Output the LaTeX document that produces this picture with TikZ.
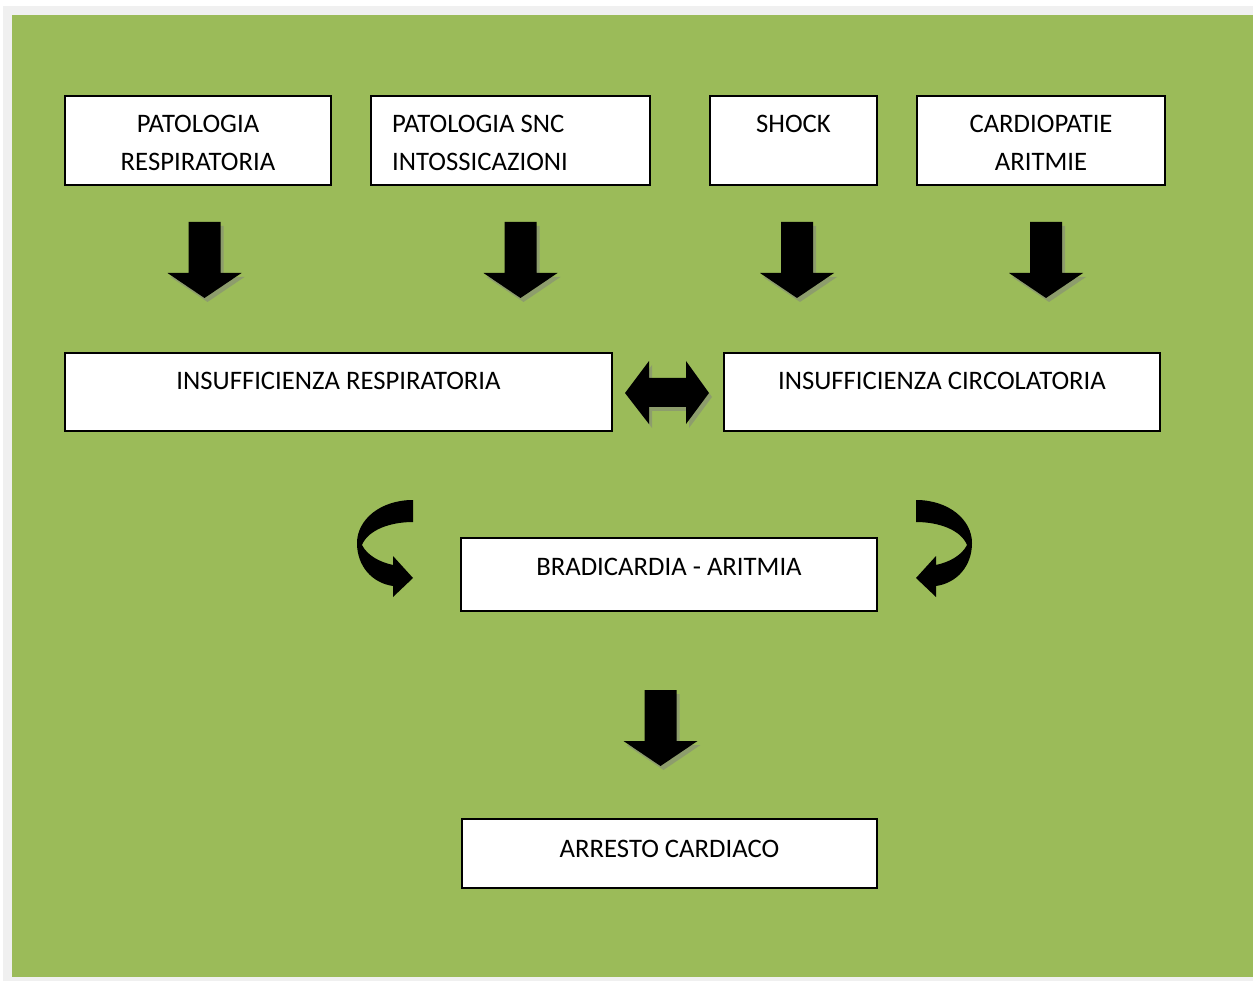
\documentclass[tikz,border=0pt]{standalone}
\usepackage{fontspec}
\setmainfont{Carlito}
\definecolor{bggreen}{HTML}{9BBB59}
\definecolor{bggray}{HTML}{F0F0F0}
\tikzset{
  box/.style={draw=black, line width=2pt, fill=white, anchor=north west, inner sep=0pt, outer sep=0pt},
  txt/.style={font=\fontsize{26.7}{38}\selectfont, inner sep=0pt, text=black},
  shadowfill/.style={fill=gray, opacity=0.5},
  downarrow/.pic={
    \fill[shadowfill, shift={(3,4)}] (-16,0) -- (16,0) -- (16,51) -- (37,51) -- (0,76) -- (-37,51) -- (-16,51) -- cycle;
    \fill[black] (-16,0) -- (16,0) -- (16,51) -- (37,51) -- (0,76) -- (-37,51) -- (-16,51) -- cycle;
  }
}
\begin{document}
\begin{tikzpicture}[x=1pt,y=-1pt]
\useasboundingbox (0,0) rectangle (1253,981);
\fill[white] (0,0) rectangle (1253,981);
\fill[bggray] (3,6) rectangle (1253,981);
\fill[bggreen] (12,15) rectangle (1253,977);

% top boxes
\node[box, minimum width=266pt, minimum height=89pt] (b1) at (65,96) {};
\node[box, minimum width=279pt, minimum height=89pt] (b2) at (371,96) {};
\node[box, minimum width=167pt, minimum height=89pt] (b3) at (710,96) {};
\node[box, minimum width=248pt, minimum height=89pt] (b4) at (917,96) {};
\node[txt, anchor=base] (t1a) at (198,133) {PATOLOGIA};
\node[txt, anchor=base] (t1b) at (198,171) {RESPIRATORIA};
\node[txt, anchor=base west] (t2a) at (392,133) {PATOLOGIA SNC};
\node[txt, anchor=base west] (t2b) at (392,171) {INTOSSICAZIONI};
\node[txt, anchor=base] (t3a) at (793.5,133) {SHOCK};
\node[txt, anchor=base] (t4a) at (1041,133) {CARDIOPATIE};
\node[txt, anchor=base] (t4b) at (1041,171) {ARITMIE};

% down arrows
\pic at (204.5,222) {downarrow};
\pic at (520.5,222) {downarrow};
\pic at (797,222) {downarrow};
\pic at (1046,222) {downarrow};

% middle boxes
\node[box, minimum width=547pt, minimum height=78pt] (b5) at (65,353) {};
\node[box, minimum width=436pt, minimum height=78pt] (b6) at (724,353) {};
\node[txt, anchor=base] (t5) at (338.5,390) {INSUFFICIENZA RESPIRATORIA};
\node[txt, anchor=base] (t6) at (942,390) {INSUFFICIENZA CIRCOLATORIA};

% double arrow
\fill[shadowfill, shift={(3,4)}] (625,393) -- (649,361) -- (649,378) -- (686,378) -- (686,361) -- (709,393) -- (686,424) -- (686,407) -- (649,407) -- (649,424) -- cycle;
\fill[black] (625,393) -- (649,361) -- (649,378) -- (686,378) -- (686,361) -- (709,393) -- (686,424) -- (686,407) -- (649,407) -- (649,424) -- cycle;

% curved arrows
\fill[black] (413,500) .. controls (380,500) and (357,520) .. (357,543) .. controls (357,566) and (372,583) .. (393,586) -- (393,597) -- (413,578) -- (393,556) -- (393,565) .. controls (379,562) and (367,555) .. (362,545) .. controls (368,530) and (390,522) .. (413,522) -- cycle;
\fill[black] (916,500) .. controls (949,500) and (972,520) .. (972,543) .. controls (972,566) and (957,583) .. (936,586) -- (936,597) -- (916,578) -- (936,556) -- (936,565) .. controls (950,562) and (962,555) .. (967,545) .. controls (961,530) and (939,522) .. (916,522) -- cycle;

\node[box, minimum width=416pt, minimum height=73pt] (b7) at (461,538) {};
\node[txt, anchor=base] (t7) at (669,575) {BRADICARDIA - ARITMIA};

\pic at (660.5,690) {downarrow};

\node[box, minimum width=415pt, minimum height=69pt] (b8) at (462,819) {};
\node[txt, anchor=base] (t8) at (669.5,857) {ARRESTO CARDIACO};
\end{tikzpicture}
\end{document}
